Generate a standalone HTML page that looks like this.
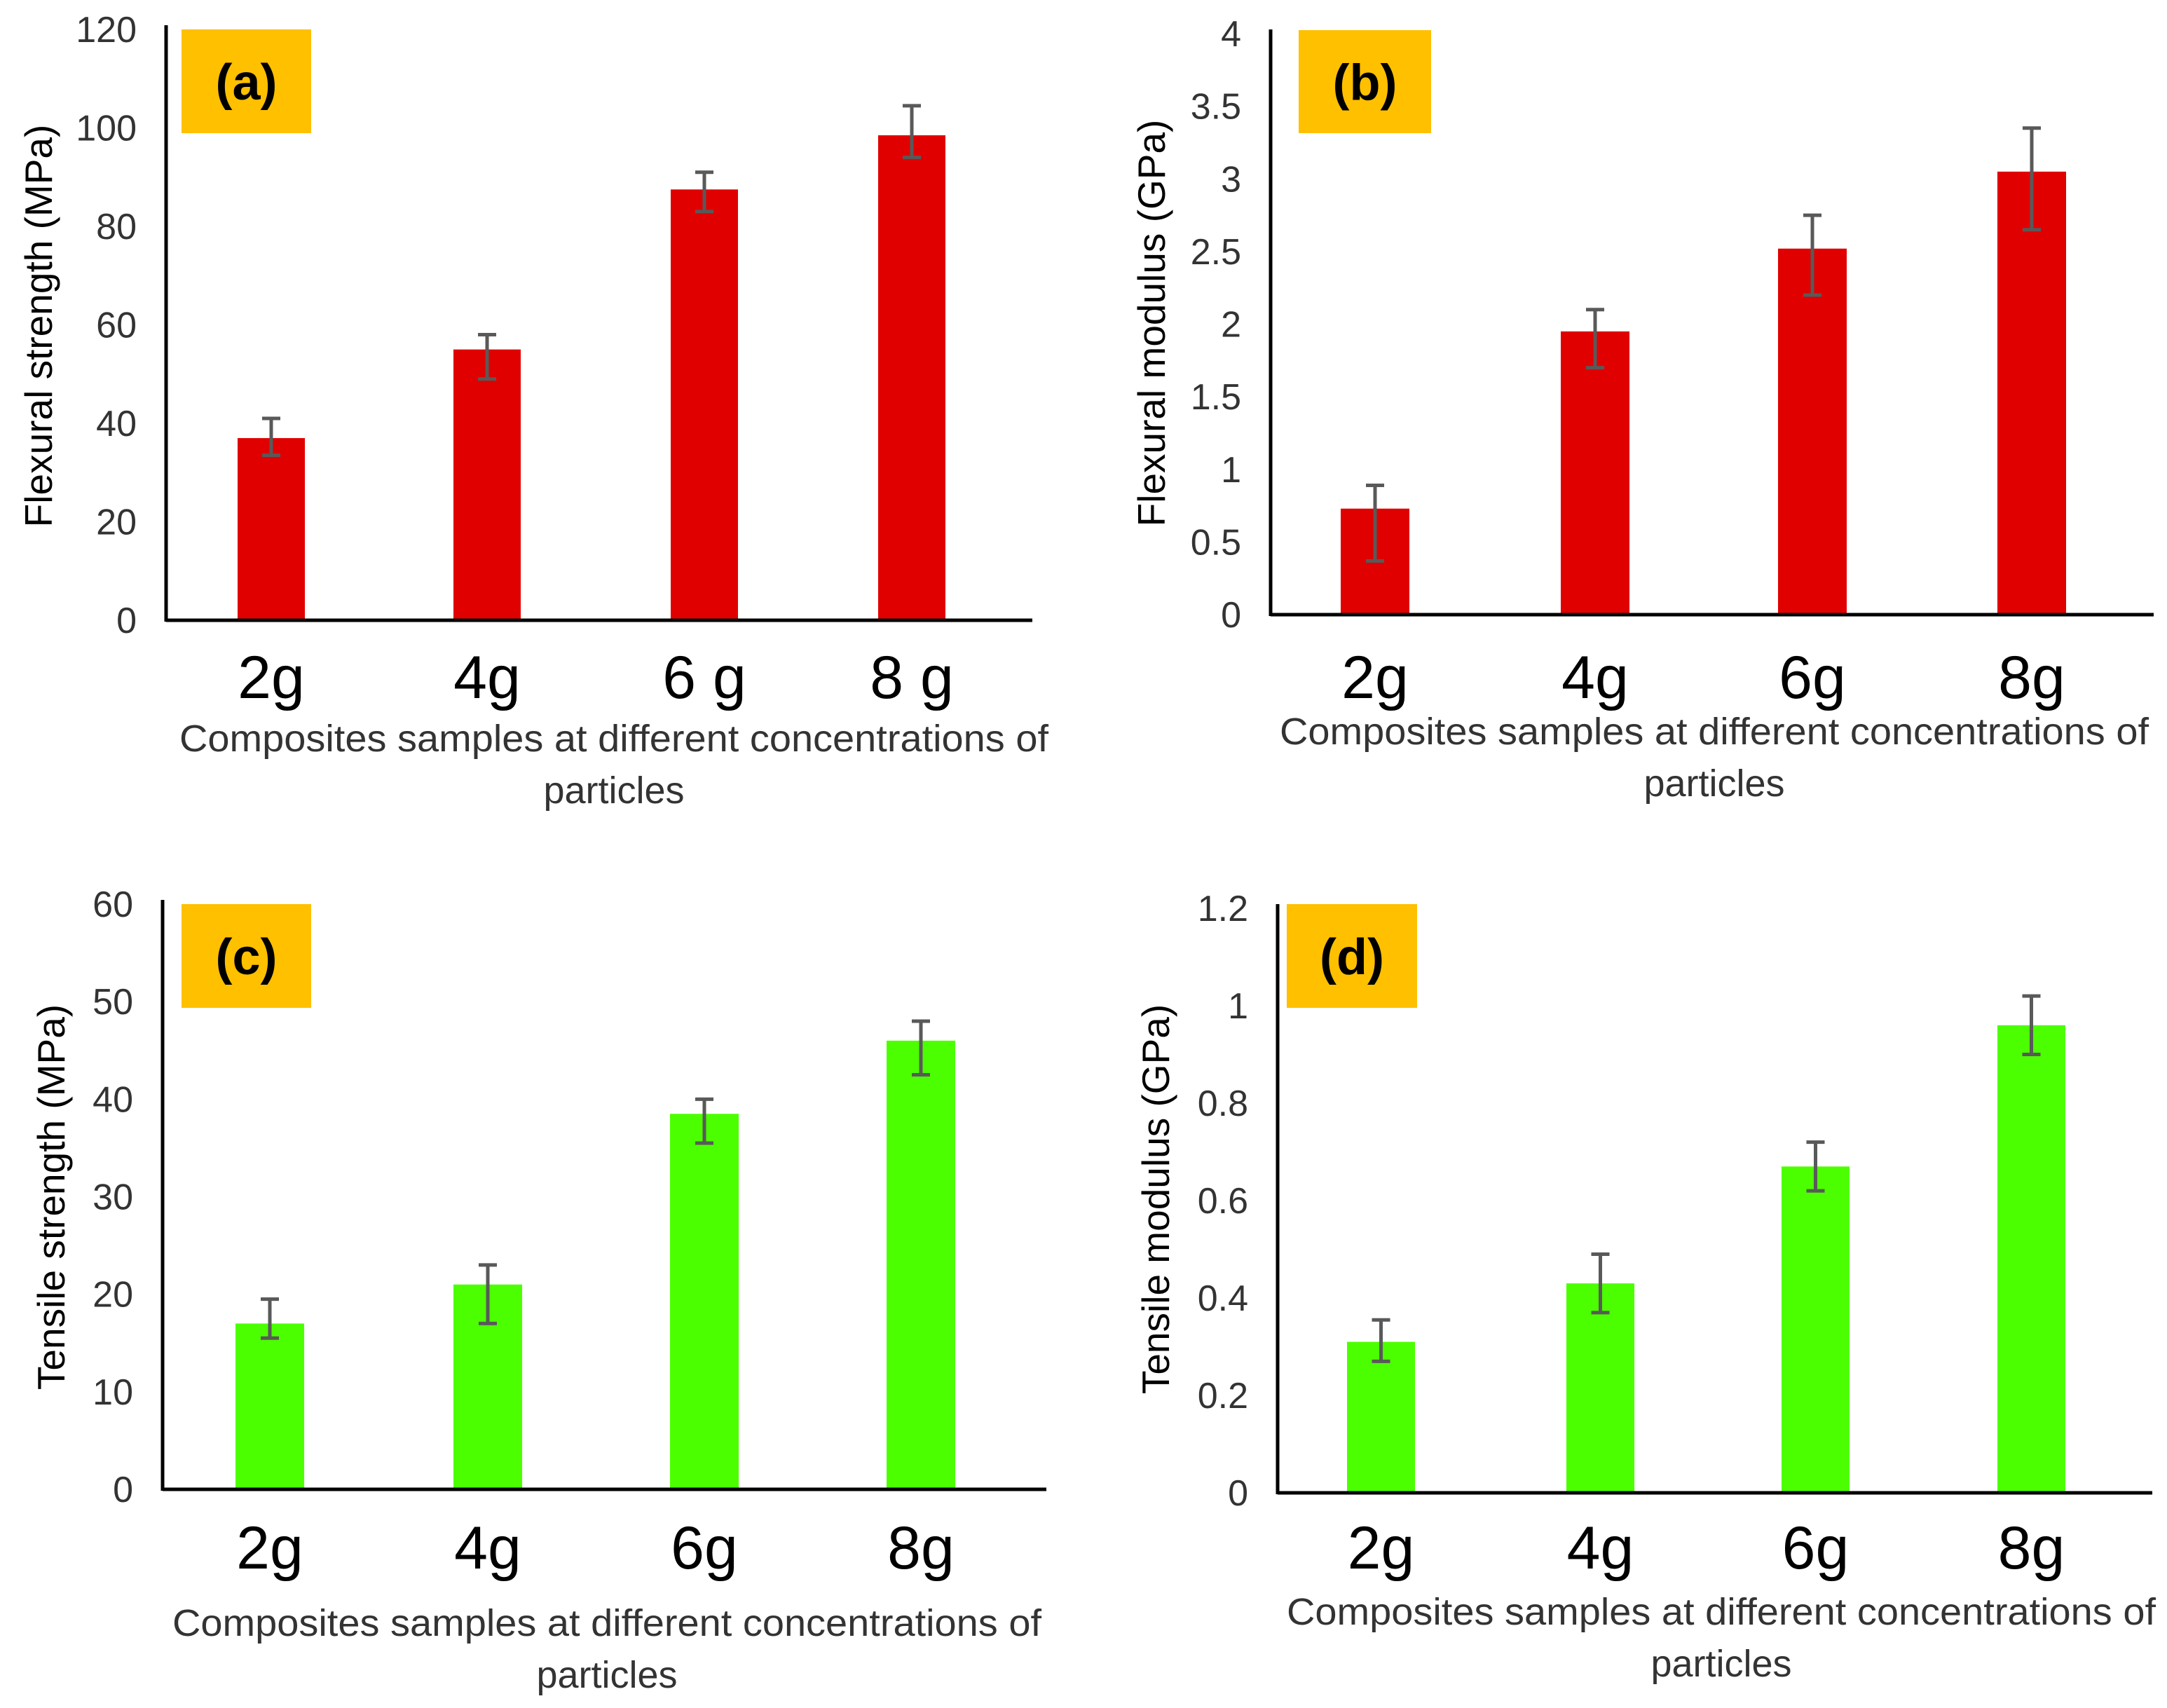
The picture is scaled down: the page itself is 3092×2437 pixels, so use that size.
<!DOCTYPE html>
<html><head><meta charset="utf-8"><style>
html,body{margin:0;padding:0;background:#fff}
svg{display:block}
text{font-family:"Liberation Sans",sans-serif}
</style></head><body>
<svg id="fig" width="3092" height="2437" viewBox="0 0 3092 2437" xmlns="http://www.w3.org/2000/svg"></svg>
<script>
const categories = ["2g","4g","6 g","8 g"];
const categoriesB = ["2g","4g","6g","8g"];
const valuesA = [37, 55, 87.5, 98.5];
const errLowA = [33.5, 49, 83, 94];
const errHighA = [41, 58, 91, 104.5];
const ticksA = [0,20,40,60,80,100,120];
const valuesB = [0.73, 1.95, 2.52, 3.05];
const errLowB = [0.37, 1.7, 2.2, 2.65];
const errHighB = [0.89, 2.1, 2.75, 3.35];
const ticksB = ["0","0.5","1","1.5","2","2.5","3","3.5","4"];
const valuesC = [17, 21, 38.5, 46];
const errLowC = [15.5, 17, 35.5, 42.5];
const errHighC = [19.5, 23, 40, 48];
const ticksC = [0,10,20,30,40,50,60];
const valuesD = [0.31, 0.43, 0.67, 0.96];
const errLowD = [0.27, 0.37, 0.62, 0.90];
const errHighD = [0.355, 0.49, 0.72, 1.02];
const ticksD = ["0","0.2","0.4","0.6","0.8","1","1.2"];

const NS="http://www.w3.org/2000/svg";
const svg=document.getElementById('fig');
function mk(tag,attrs,parent){const e=document.createElementNS(NS,tag);for(const k in attrs)e.setAttribute(k,attrs[k]);(parent||svg).appendChild(e);return e;}

function panel(p){
  const g=mk('g',{});
  
  
  const ymax=parseFloat(p.ticks[p.ticks.length-1]);
  const y=v=>p.y0-(v/ymax)*(p.y0-p.yTop);
  p.ticks.forEach(t=>{
    const tx=mk('text',{x:p.ax-42,y:y(parseFloat(t))+18,'text-anchor':'end','font-size':52,fill:'#333'},g);
    tx.textContent=t;
    
    
  });
  p.values.forEach((v,i)=>{
    const x=p.barX[i], w=p.barW;
    const r=mk('rect',{x:x,y:y(v),width:w,height:p.y0-y(v),fill:p.color},g);
    
    
    const cx=x+w/2;
    const e=mk('g',{stroke:'#595959','stroke-width':5},g);
    
    
    mk('line',{x1:cx,x2:cx,y1:y(p.lo[i]),y2:y(p.hi[i])},e);
    mk('line',{x1:cx-13,x2:cx+13,y1:y(p.lo[i]),y2:y(p.lo[i])},e);
    mk('line',{x1:cx-13,x2:cx+13,y1:y(p.hi[i]),y2:y(p.hi[i])},e);
    const lt=mk('text',{x:cx,y:p.labY,'text-anchor':'middle','font-size':86,fill:'#000'},g);
    lt.textContent=p.cats[i];
    
    
  });
  const ya=mk('line',{x1:p.ax,x2:p.ax,y1:p.yTop-6,y2:p.y0+2,stroke:'#000','stroke-width':5},g);
  
  
  const xa=mk('line',{x1:p.ax,x2:p.axR,y1:p.y0,y2:p.y0,stroke:'#000','stroke-width':5},g);
  
  
  const b=mk('rect',{x:p.box[0],y:p.box[1],width:p.box[2],height:p.box[3],fill:'#ffc000'},g);
  
  
  const bt=mk('text',{x:p.box[0]+p.box[2]/2,y:p.box[1]+p.box[3]/2+26,'text-anchor':'middle','font-size':72,'font-weight':'bold',fill:'#000'},g);
  bt.textContent='('+p.id+')';
  
  
  const yt=mk('text',{x:0,y:0,'text-anchor':'middle','font-size':55,fill:'#000',transform:`translate(${p.ytx},${p.yty}) rotate(-90)`},g);
  yt.textContent=p.ytitle;
  
  
  const xt=mk('text',{x:p.tcx,y:p.tY,'text-anchor':'middle','font-size':54,fill:'#333',textLength:1240,lengthAdjust:'spacingAndGlyphs'},g);
  xt.textContent='Composites samples at different concentrations of';
  
  
  const xt2=mk('text',{x:p.tcx,y:p.tY+74,'text-anchor':'middle','font-size':54,fill:'#333'},g);
  xt2.textContent='particles';
  
  
}

const RED='#e00000', GREEN='#4cff00';
panel({id:'a',values:valuesA,lo:errLowA,hi:errHighA,ticks:ticksA.map(String),cats:categories,color:RED,
  ax:237,axR:1473,yTop:42,y0:885,barX:[339,647,957,1253],barW:96,labY:996,
  box:[259,42,185,148],ytitle:'Flexural strength (MPa)',ytx:74,yty:465,tcx:876,tY:1072});
panel({id:'b',values:valuesB,lo:errLowB,hi:errHighB,ticks:ticksB,cats:categoriesB,color:RED,
  ax:1813,axR:3073,yTop:48,y0:877,barX:[1913,2227,2537,2850],barW:98,labY:996,
  box:[1853,43,189,147],ytitle:'Flexural modulus (GPa)',ytx:1662,yty:461,tcx:2446,tY:1062});
panel({id:'c',values:valuesC,lo:errLowC,hi:errHighC,ticks:ticksC.map(String),cats:categoriesB,color:GREEN,
  ax:232,axR:1493,yTop:1290,y0:2125,barX:[336,647,956,1265],barW:98,labY:2238,
  box:[259,1290,185,148],ytitle:'Tensile strength (MPa)',ytx:92,yty:1708,tcx:866,tY:2334});
panel({id:'d',values:valuesD,lo:errLowD,hi:errHighD,ticks:ticksD,cats:categoriesB,color:GREEN,
  ax:1823,axR:3071,yTop:1296,y0:2130,barX:[1922,2235,2542,2850],barW:97,labY:2238,
  box:[1836,1290,186,148],ytitle:'Tensile modulus (GPa)',ytx:1668,yty:1711,tcx:2456,tY:2318});
</script>
</body></html>
